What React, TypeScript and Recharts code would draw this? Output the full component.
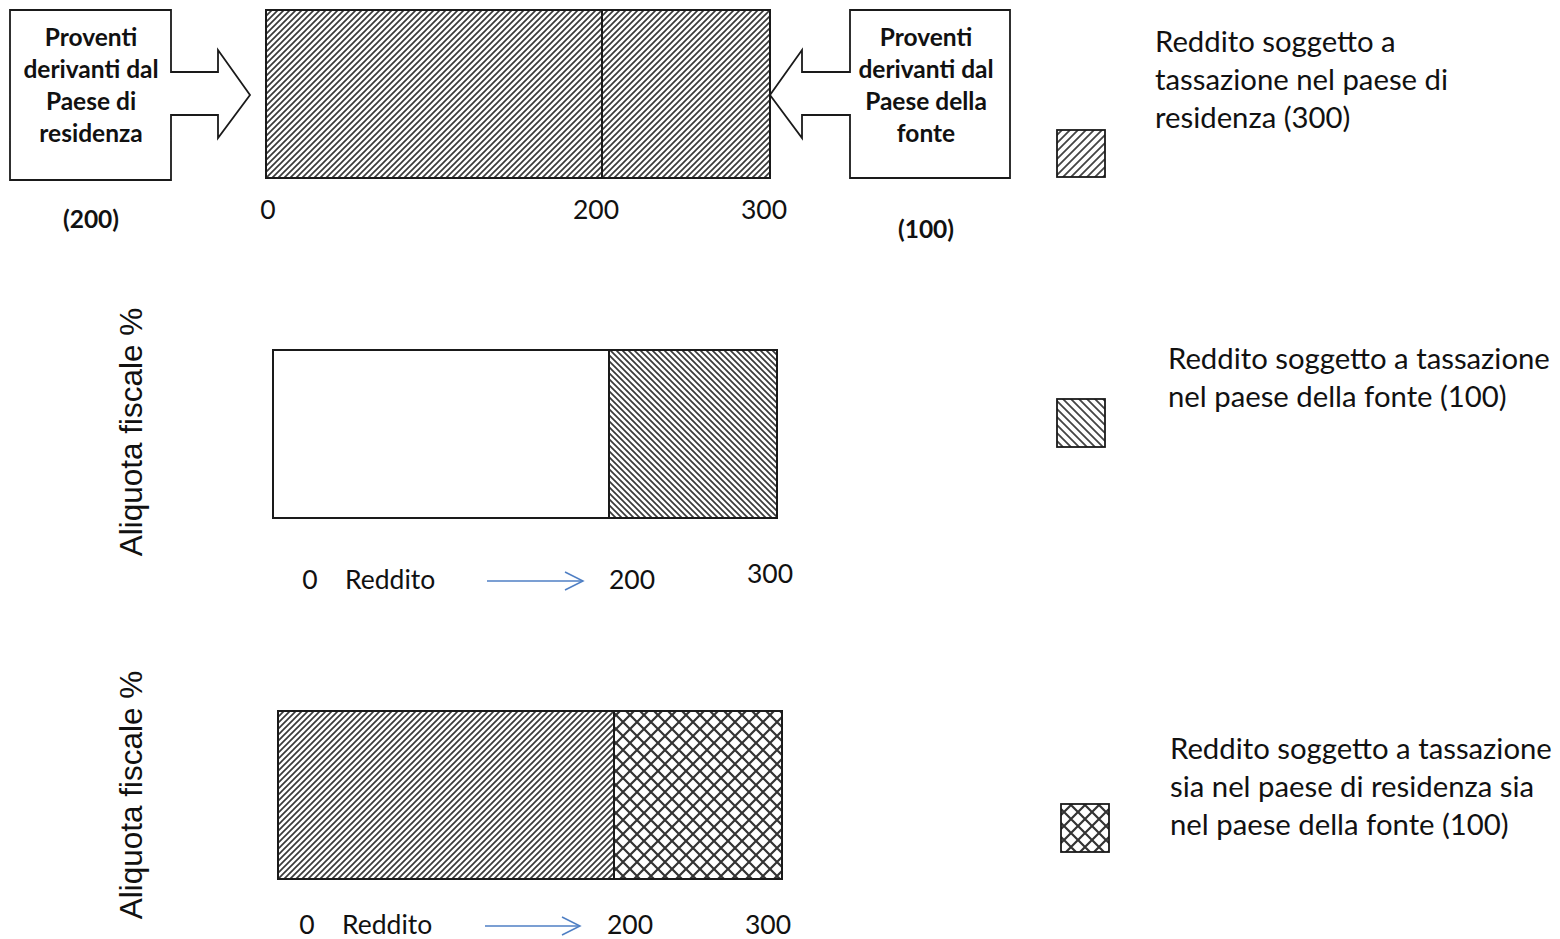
import React from 'react';
import { BarChart, Bar, XAxis, YAxis } from 'recharts';

// values
const incomeCategory = ['Reddito'];
const residenceIncome = [200];
const sourceIncome = [100];
const axisTicks = [0, 200, 300];
const tickLabels = ['0', '200', '300'];
const axisWord = 'Reddito';
const yAxisTitle = 'Aliquota fiscale %';
const residenceBox = ['Proventi', 'derivanti dal', 'Paese di', 'residenza'];
const sourceBox = ['Proventi', 'derivanti dal', 'Paese della', 'fonte'];
const residenceAmount = '(200)';
const sourceAmount = '(100)';
const legendResidence = ['Reddito soggetto a', 'tassazione nel paese di', 'residenza (300)'];
const legendSource = ['Reddito soggetto a tassazione', 'nel paese della fonte (100)'];
const legendBoth = ['Reddito soggetto a tassazione', 'sia nel paese di residenza sia', 'nel paese della fonte (100)'];

const data = incomeCategory.map((name, i) => ({
  name,
  residenza: residenceIncome[i],
  fonte: sourceIncome[i],
}));

const FONT = 'Lato, "Open Sans", sans-serif';
const INK = '#1a1a1a';
const BLUE = '#4f7fc4';
const BAR_W = 504;
const CHART_W = 820;
const TICK_SIZE = 26.5;

type TickCfg = {
  dx: number[];
  dy: number[];
  word?: { dx: number; arrowFrom: number; arrowTo: number; dy: number };
};

function makeTick(cfg: TickCfg) {
  return (props: any) => {
    const { x, y, payload } = props;
    const i = axisTicks.indexOf(payload.value);
    return (
      <g>
        <text
          x={x + cfg.dx[i]}
          y={y + cfg.dy[i]}
          textAnchor="middle"
          dominantBaseline="central"
          fontFamily={FONT}
          fontSize={TICK_SIZE}
          fill="#111"
        >
          {tickLabels[i]}
        </text>
        {i === 0 && cfg.word && (
          <g>
            <text
              x={x + cfg.word.dx}
              y={y + cfg.dy[0]}
              dominantBaseline="central"
              fontFamily={FONT}
              fontSize={TICK_SIZE}
              fill="#111"
            >
              {axisWord}
            </text>
            <line
              x1={x + cfg.word.arrowFrom}
              x2={x + cfg.word.arrowTo}
              y1={y + cfg.word.dy}
              y2={y + cfg.word.dy}
              stroke={BLUE}
              strokeWidth={1.5}
            />
            <polyline
              points={`${x + cfg.word.arrowTo - 18},${y + cfg.word.dy - 9} ${x + cfg.word.arrowTo},${y + cfg.word.dy} ${x + cfg.word.arrowTo - 18},${y + cfg.word.dy + 9}`}
              fill="none"
              stroke={BLUE}
              strokeWidth={1.5}
            />
          </g>
        )}
      </g>
    );
  };
}

function IncomeBar({ top, left, axisH, fills, tick }: any) {
  return (
    <div style={{ position: 'absolute', left: 0, top }}>
      <BarChart
        width={CHART_W}
        height={10 + 168 + axisH}
        data={data}
        layout="vertical"
        barCategoryGap={0}
        margin={{ top: 10, right: CHART_W - left - BAR_W, bottom: 0, left }}
      >
        <XAxis
          type="number"
          domain={[0, 300]}
          ticks={axisTicks}
          interval={0}
          tick={tick}
          tickLine={false}
          axisLine={false}
          tickSize={0}
          tickMargin={0}
          height={axisH}
        />
        <YAxis type="category" dataKey="name" hide />
        <Bar dataKey="residenza" stackId="a" fill={fills[0]} stroke={INK} strokeWidth={2} isAnimationActive={false} />
        <Bar dataKey="fonte" stackId="a" fill={fills[1]} stroke={INK} strokeWidth={2} isAnimationActive={false} />
      </BarChart>
    </div>
  );
}

function Lines({ lines, x, y, step, size, bold, anchor }: any) {
  return (
    <g>
      {lines.map((t: string, i: number) => (
        <text
          key={i}
          x={x}
          y={y + i * step}
          textAnchor={anchor}
          dominantBaseline="central"
          fontFamily={FONT}
          fontSize={size}
          fontWeight={bold ? 700 : 400}
          fill="#111"
        >
          {t}
        </text>
      ))}
    </g>
  );
}

export default function App() {
  return (
    <div style={{ position: 'absolute', left: 0, top: 0, width: 1560, height: 939, background: '#fff' }}>
      <svg width={1560} height={939} style={{ position: 'absolute', left: 0, top: 0 }}>
        <defs>
          <pattern id="fwd" width={6} height={6} patternUnits="userSpaceOnUse">
            <rect width={6} height={6} fill="#fff" />
            <path d="M-1,1 l2,-2 M0,6 l6,-6 M5,7 l2,-2" stroke="#3a3a3a" strokeWidth={1.7} />
          </pattern>
          <pattern id="back" width={6} height={6} patternUnits="userSpaceOnUse">
            <rect width={6} height={6} fill="#fff" />
            <path d="M-1,5 l2,2 M0,0 l6,6 M5,-1 l2,2" stroke="#3a3a3a" strokeWidth={1.7} />
          </pattern>
          <pattern id="fwdL" width={8} height={8} patternUnits="userSpaceOnUse">
            <rect width={8} height={8} fill="#fff" />
            <path d="M-1,1 l2,-2 M0,8 l8,-8 M7,9 l2,-2" stroke="#444" strokeWidth={1.8} />
          </pattern>
          <pattern id="backL" width={8} height={8} patternUnits="userSpaceOnUse">
            <rect width={8} height={8} fill="#fff" />
            <path d="M-1,7 l2,2 M0,0 l8,8 M7,-1 l2,2" stroke="#444" strokeWidth={1.8} />
          </pattern>
          <pattern id="cross" width={14} height={14} patternUnits="userSpaceOnUse">
            <rect width={14} height={14} fill="#fff" />
            <path d="M0,0 L14,14 M14,0 L0,14" stroke="#333" strokeWidth={2.2} />
          </pattern>
        </defs>

        {/* callout boxes */}
        <path
          d="M10,10 H171 V72 H218 V50 L250,95 L218,138 V115 H171 V180 H10 Z"
          fill="#fff"
          stroke={INK}
          strokeWidth={1.8}
        />
        <path
          d="M1010,10 H850 V72 H802 V50 L770,95 L802,138 V115 H850 V178 H1010 Z"
          fill="#fff"
          stroke={INK}
          strokeWidth={1.8}
        />
        <Lines lines={residenceBox} x={91} y={36} step={32} size={24.5} bold anchor="middle" />
        <Lines lines={sourceBox} x={926} y={36} step={32} size={24.5} bold anchor="middle" />
        <Lines lines={[residenceAmount]} x={91} y={218} step={0} size={24.5} bold anchor="middle" />
        <Lines lines={[sourceAmount]} x={926} y={228} step={0} size={24.5} bold anchor="middle" />

        {/* rotated axis titles */}
        {[432, 795].map((cy) => (
          <text
            key={cy}
            x={131}
            y={cy}
            transform={`rotate(-90 131 ${cy})`}
            textAnchor="middle"
            dominantBaseline="central"
            fontFamily='"Liberation Sans", Arial, sans-serif'
            fontSize={31.5}
            fill="#111"
          >
            {yAxisTitle}
          </text>
        ))}

        {/* legend */}
        <rect x={1057} y={130} width={48} height={47} fill="url(#fwdL)" stroke={INK} strokeWidth={1.8} />
        <rect x={1057} y={399} width={48} height={48} fill="url(#backL)" stroke={INK} strokeWidth={1.8} />
        <rect x={1061} y={804} width={48} height={48} fill="url(#cross)" stroke={INK} strokeWidth={1.8} />
        <Lines lines={legendResidence} x={1155} y={40} step={38} size={29.3} anchor="start" />
        <Lines lines={legendSource} x={1168} y={357} step={38} size={29.3} anchor="start" />
        <Lines lines={legendBoth} x={1170} y={747} step={38} size={29.3} anchor="start" />
      </svg>

      <IncomeBar
        top={0}
        left={266}
        axisH={60}
        fills={['url(#fwd)', 'url(#fwd)']}
        tick={makeTick({ dx: [2, -6, -6], dy: [31, 31, 31] })}
      />
      <IncomeBar
        top={340}
        left={273}
        axisH={95}
        fills={['#fff', 'url(#back)']}
        tick={makeTick({
          dx: [37, 23, -7],
          dy: [61, 61, 55],
          word: { dx: 72, arrowFrom: 214, arrowTo: 310, dy: 63 },
        })}
      />
      <IncomeBar
        top={701}
        left={278}
        axisH={80}
        fills={['url(#fwd)', 'url(#cross)']}
        tick={makeTick({
          dx: [29, 16, -14],
          dy: [45, 45, 45],
          word: { dx: 64, arrowFrom: 207, arrowTo: 302, dy: 47 },
        })}
      />
    </div>
  );
}
